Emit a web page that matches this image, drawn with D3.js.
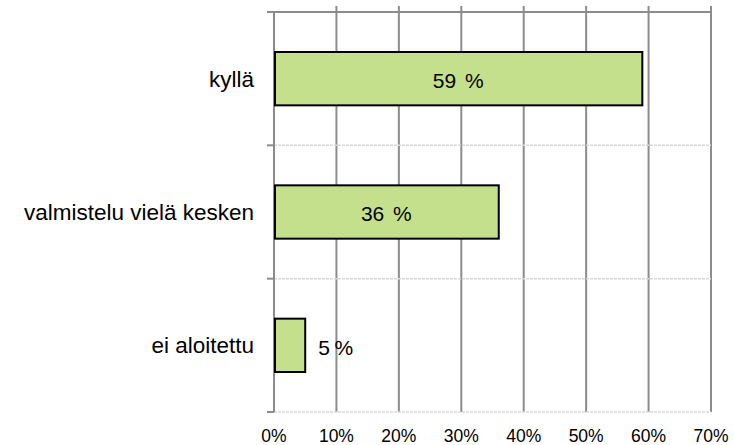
<!DOCTYPE html>
<html>
<head>
<meta charset="utf-8">
<script src="https://cdn.jsdelivr.net/npm/d3@7"></script>
<style>
  body { margin: 0; background: #fff; }
  text { font-family: "Liberation Sans", Arial, sans-serif; fill: #000; }
</style>
</head>
<body>
<svg id="chart" width="734" height="445"></svg>
<script>
const categories = ["kyllä", "valmistelu vielä kesken", "ei aloitettu"];
const values = [59, 36, 5];
const xTicks = [0, 10, 20, 30, 40, 50, 60, 70];

const svg = d3.select("#chart");
const margin = { top: 12, left: 274, right: 23, bottom: 33 };
const W = 734, H = 445;

const x = d3.scaleLinear().domain([0, 70]).range([margin.left, W - margin.right]);
const y = d3.scaleBand().domain(categories).range([margin.top, H - margin.bottom]).paddingInner(0.6).paddingOuter(0.3);
const bounds = [margin.top, ...categories.map((c, i) => y(c) + y.bandwidth() / 2 + y.step() / 2)];

// vertical gridlines
svg.append("g")
  .selectAll("line")
  .data(xTicks.slice(1))
  .enter()
  .append("line")
  .attr("x1", d => x(d)).attr("x2", d => x(d))
  .attr("y1", margin.top - 6).attr("y2", H - margin.bottom)
  .style("stroke", "#8c8c8c")
  .style("stroke-width", 2);

// horizontal separators
svg.append("g")
  .selectAll("line")
  .data(bounds)
  .enter()
  .append("line")
  .attr("x1", margin.left).attr("x2", W - margin.right)
  .attr("y1", d => d).attr("y2", d => d)
  .style("stroke", (d, i) => i === 0 ? "#8c8c8c" : "#d9d9d9")
  .style("stroke-width", (d, i) => i === 0 ? 2 : 1.5)
  .style("stroke-dasharray", (d, i) => i === 0 ? null : "3,1");

// y axis + ticks
svg.append("line")
  .attr("x1", margin.left).attr("x2", margin.left)
  .attr("y1", margin.top).attr("y2", H - margin.bottom)
  .style("stroke", "#8c8c8c").style("stroke-width", 2);
svg.append("g")
  .selectAll("line")
  .data(bounds)
  .enter()
  .append("line")
  .attr("x1", margin.left - 7).attr("x2", margin.left)
  .attr("y1", d => d).attr("y2", d => d)
  .style("stroke", "#8c8c8c").style("stroke-width", 2);

// bars
svg.append("g")
  .selectAll("rect")
  .data(values)
  .enter()
  .append("rect")
  .attr("x", x(0) + 1)
  .attr("y", (d, i) => y(categories[i]))
  .attr("width", d => x(d) - x(0) - 1)
  .attr("height", y.bandwidth())
  .style("fill", "#c5e08c")
  .style("stroke", "#000")
  .style("stroke-width", 2);

// value labels
const vl = svg.append("g")
  .selectAll("text")
  .data(values)
  .enter()
  .append("text")
  .attr("x", d => d > 10 ? (x(0) + x(d)) / 2 : x(d) + 13)
  .attr("y", (d, i) => y(categories[i]) + y.bandwidth() / 2)
  .attr("dy", "0.45em")
  .attr("text-anchor", d => d > 10 ? "middle" : "start")
  .style("font-size", "21px");
vl.append("tspan").text(d => d);
vl.append("tspan").attr("dx", d => d > 10 ? "0.42em" : "0.22em").text("%");

// category labels
svg.append("g")
  .selectAll("text")
  .data(categories)
  .enter()
  .append("text")
  .attr("x", margin.left - 20)
  .attr("y", d => y(d) + y.bandwidth() / 2)
  .attr("dy", "0.36em")
  .attr("text-anchor", "end")
  .style("font-size", "22.5px")
  .text(d => d);

// x tick labels
svg.append("g")
  .selectAll("text")
  .data(xTicks)
  .enter()
  .append("text")
  .attr("x", d => x(d))
  .attr("y", H - 3)
  .attr("text-anchor", "middle")
  .style("font-size", "17.5px")
  .text(d => d + "%");
</script>
</body>
</html>
